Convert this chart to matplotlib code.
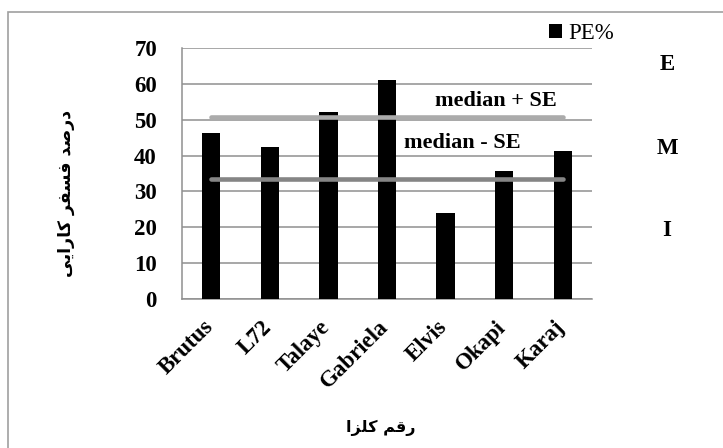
import matplotlib
matplotlib.use("Agg")
import matplotlib.pyplot as plt
import matplotlib.transforms as mtransforms
from matplotlib.patches import Rectangle

# ---------------- data ----------------
categories = ["Brutus", "L72", "Talaye", "Gabriela", "Elvis", "Okapi", "Karaj"]
pe_values = [46.4, 42.3, 52.2, 61.2, 23.9, 35.6, 41.2]
median_plus_se = 50.8
median_minus_se = 33.5
y_ticks = [0, 10, 20, 30, 40, 50, 60, 70]
class_labels = ["E", "M", "I"]
series_name = "PE%"
ylabel_text = "درصد فسفر کارایی"
xlabel_text = "رقم کلزا"

# ------------- minimal Arabic shaping (matplotlib has no complex text layout) -------------
FORMS = {  # iso, fin, ini, med
    "\u062F": ("\uFEA9", "\uFEAA", None, None),   # dal
    "\u0631": ("\uFEAD", "\uFEAE", None, None),   # reh
    "\u0632": ("\uFEAF", "\uFEB0", None, None),   # zain
    "\u0627": ("\uFE8D", "\uFE8E", None, None),   # alef
    "\u0635": ("\uFEB9", "\uFEBA", "\uFEBB", "\uFEBC"),  # sad
    "\u0641": ("\uFED1", "\uFED2", "\uFED3", "\uFED4"),  # feh
    "\u0633": ("\uFEB1", "\uFEB2", "\uFEB3", "\uFEB4"),  # seen
    "\u06A9": ("\uFB8E", "\uFB8F", "\uFB90", "\uFB91"),  # keheh
    "\u06CC": ("\uFBFC", "\uFBFD", "\uFBFE", "\uFBFF"),  # farsi yeh
    "\u0642": ("\uFED5", "\uFED6", "\uFED7", "\uFED8"),  # qaf
    "\u0645": ("\uFEE1", "\uFEE2", "\uFEE3", "\uFEE4"),  # meem
    "\u0644": ("\uFEDD", "\uFEDE", "\uFEDF", "\uFEE0"),  # lam
}


def shape_arabic(text):
    out = []
    chars = list(text)
    for i, c in enumerate(chars):
        if c not in FORMS:
            out.append(c)
            continue
        prev = chars[i - 1] if i > 0 else None
        nxt = chars[i + 1] if i + 1 < len(chars) else None
        join_prev = prev in FORMS and FORMS[prev][2] is not None
        join_next = FORMS[c][2] is not None and nxt in FORMS
        iso, fin, ini, med = FORMS[c]
        if join_prev and join_next:
            out.append(med)
        elif join_prev:
            out.append(fin)
        elif join_next:
            out.append(ini)
        else:
            out.append(iso)
    return "".join(reversed(out))


# ---------------- figure ----------------
W, H = 723, 448
fig = plt.figure(figsize=(W / 100, H / 100), dpi=100)
fig.patch.set_facecolor("white")

# outer frame (gray border, partly off-canvas)
fig.patches.append(Rectangle((8 / W, -0.05), 1.2, 1 - 12 / H + 0.05,
                             transform=fig.transFigure, fill=False,
                             edgecolor="#a0a0a0", linewidth=1.2))

ax = fig.add_axes([182 / W, 1 - 298.5 / H, 410 / W, 250.2 / H])

serif = ["Liberation Serif", "DejaVu Serif"]
grid_c = "#8f8f8f"

x = list(range(len(categories)))
bars = ax.bar(x, pe_values, width=0.31, color="black", zorder=3, label=series_name)

ax.plot([x[0], x[-1]], [median_plus_se, median_plus_se], color="#ababab", lw=3.3,
        solid_capstyle="round", zorder=4)
ax.plot([x[0], x[-1]], [median_minus_se, median_minus_se], color="#858585", lw=3.3,
        solid_capstyle="round", zorder=4)

ax.set_xlim(-0.5, len(categories) - 0.5)
ax.set_ylim(0, 70)
ax.set_yticks(y_ticks)
ax.set_yticklabels([str(v) for v in y_ticks], fontfamily=serif, fontweight="bold", fontsize=16.5)
ax.set_xticks(x)
ax.set_xticklabels(categories, fontfamily=serif, fontweight="bold", fontsize=16.5,
                   rotation=45, ha="right", va="top")
ax.tick_params(axis="both", length=0)
ax.tick_params(axis="y", pad=18)
ax.tick_params(axis="x", pad=13)
offset = mtransforms.ScaledTranslation(6 / 100, 0, fig.dpi_scale_trans)
for lbl in ax.get_xticklabels():
    lbl.set_transform(lbl.get_transform() + offset)

ax.yaxis.grid(True, color=grid_c, linewidth=1.1, zorder=0)
ax.set_axisbelow(True)
for side in ["top", "right"]:
    ax.spines[side].set_visible(False)
for side in ["left", "bottom"]:
    ax.spines[side].set_color(grid_c)
    ax.spines[side].set_linewidth(1.1)

# annotations
ax.text(4.86, 55.3, "median + SE", fontfamily=serif, fontweight="bold", fontsize=16,
        ha="center", va="center", zorder=5)
ax.text(4.29, 43.5, "median - SE", fontfamily=serif, fontweight="bold", fontsize=16,
        ha="center", va="center", zorder=5)

# class letters on the right
for lab, py in zip(class_labels, [65, 149, 230]):
    fig.text(667 / W, 1 - py / H, lab, fontfamily=serif, fontweight="bold", fontsize=16.5,
             ha="center", va="center")

# legend
leg = fig.legend(handles=[bars], labels=[series_name], loc="upper left",
                 bbox_to_anchor=(549 / W, 1 - 23 / H), frameon=False,
                 prop={"family": serif, "size": 16.5}, handlelength=0.55,
                 handleheight=0.55, handletextpad=0.3, borderpad=0, borderaxespad=0)

# axis titles (Persian)
fig.text(66 / W, 1 - 193 / H, shape_arabic(ylabel_text), rotation=90,
         fontfamily=["DejaVu Sans"], fontweight="bold", fontsize=12.5, ha="center", va="center")
fig.text(381 / W, 1 - 428 / H, shape_arabic(xlabel_text),
         fontfamily=["DejaVu Sans"], fontweight="bold", fontsize=11.5, ha="center", va="center")

fig.savefig("out.png", dpi=100, facecolor="white")
